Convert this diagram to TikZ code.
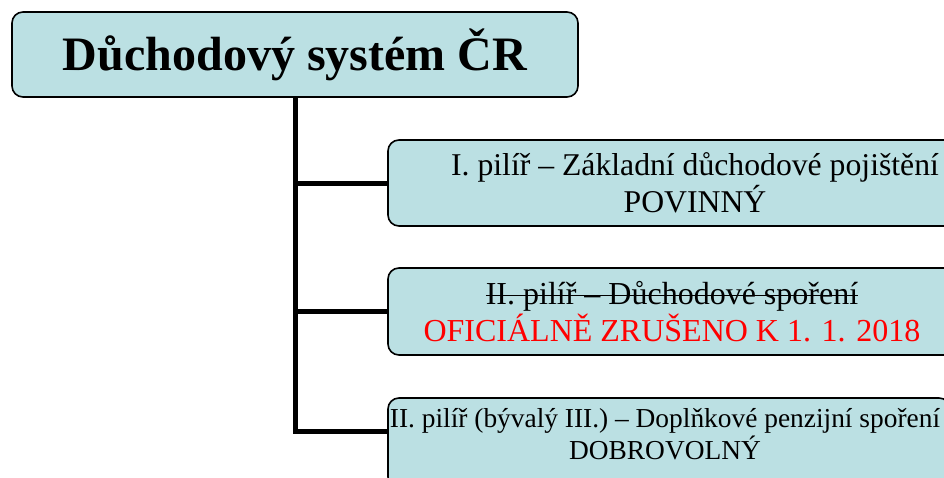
\documentclass[tikz,border=0pt]{standalone}
\usepackage{fontspec}
\setmainfont{Liberation Serif}
\usetikzlibrary{calc}
\definecolor{boxfill}{RGB}{187,224,227}
\newlength\strikelen
\newcommand\strikeout[1]{\settowidth\strikelen{#1}\rlap{\rule[0.25em]{\strikelen}{1.6pt}}#1}

\begin{document}
\begin{tikzpicture}[x=1pt,y=-1pt,
  box/.style={draw,line width=1.6pt,fill=boxfill,rounded corners=11pt,inner sep=0pt,align=center},
  link/.style={line width=5pt}
  ]
\useasboundingbox (0,0) rectangle (944,477);
\node[box,minimum width=566pt,minimum height=85pt,font=\fontsize{48}{55}\selectfont\bfseries] (root) at (295,54.5) {Důchodový systém ČR};
\node[box,minimum width=614pt,minimum height=86pt,font=\fontsize{31.7}{36.5}\selectfont] (p1) at (695,183) {I. pilíř – Základní důchodové pojištění\\POVINNÝ};
\node[box,minimum width=568pt,minimum height=87pt,font=\fontsize{32}{37}\selectfont] (p2) at (672,311.5) {\strikeout{II. pilíř – Důchodové spoření}\\\textcolor{red}{OFICIÁLNĚ ZRUŠENO K 1. 1. 2018}};
\node[box,minimum width=562pt,minimum height=90pt] (p3) at (669,443) {};
\node[align=center,inner sep=0pt,font=\fontsize{27.4}{31.5}\selectfont] (t3) at (665,434) {II. pilíř (bývalý III.) – Doplňkové penzijní spoření\\DOBROVOLNÝ};
\draw[link] (root.south) |- ([yshift=-34pt]p3.north west);
\draw[link] (root.south |- p1.west) -- (p1.west);
\draw[link] (root.south |- p2.west) -- (p2.west);
\end{tikzpicture}
\end{document}
